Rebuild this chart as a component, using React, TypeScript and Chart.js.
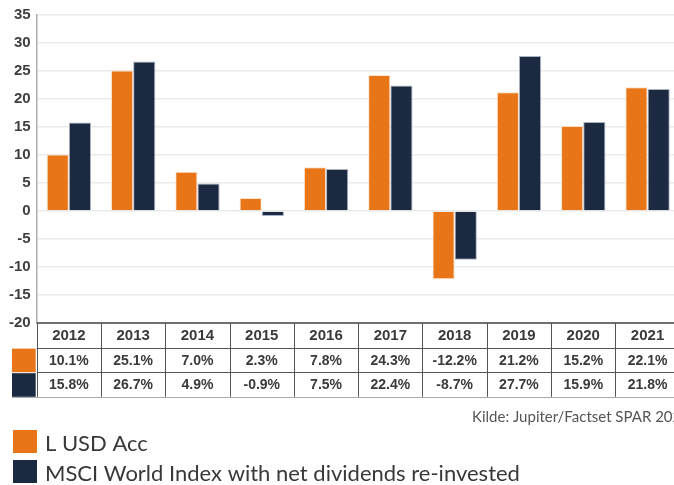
import React, { useEffect, useRef } from "react";
import { Chart, registerables } from "chart.js";

Chart.register(...registerables);

const categories = ["2012", "2013", "2014", "2015", "2016", "2017", "2018", "2019", "2020", "2021"];
const fundReturns = [10.1, 25.1, 7.0, 2.3, 7.8, 24.3, -12.2, 21.2, 15.2, 22.1];
const indexReturns = [15.8, 26.7, 4.9, -0.9, 7.5, 22.4, -8.7, 27.7, 15.9, 21.8];
const seriesNames = ["L USD Acc", "MSCI World Index with net dividends re-invested"];
const yMin = -20;
const yMax = 35;
const yStep = 5;
const sourceText = "Kilde: Jupiter/Factset SPAR 2021";

const ORANGE = "#E87619";
const NAVY = "#1B2A41";

const fmt = (v: number) => v.toFixed(1) + "%";

const tablePlugin = {
  id: "tableAndLegend",
  afterDraw(chart: any) {
    const ctx = chart.ctx;
    const area = chart.chartArea;
    const xs = chart.scales.x;
    const n = categories.length;
    const colW = (area.right - area.left) / n;
    const top = area.bottom;
    const rowH = 24.6;
    const rows = [top, top + rowH, top + 2 * rowH, top + 3 * rowH];
    const sqLeft = 12;
    ctx.save();

    // colour squares
    ctx.fillStyle = ORANGE;
    ctx.fillRect(sqLeft, rows[1] + 1, area.left - sqLeft - 1, rowH - 1);
    ctx.fillStyle = NAVY;
    ctx.fillRect(sqLeft, rows[2] + 1, area.left - sqLeft - 1, rowH - 1);

    // horizontal lines
    ctx.strokeStyle = "#444";
    ctx.lineWidth = 1.5;
    ctx.beginPath();
    ctx.moveTo(area.left, rows[0]);
    ctx.lineTo(area.right, rows[0]);
    ctx.stroke();
    ctx.lineWidth = 1;
    ctx.strokeStyle = "#555";
    ctx.beginPath();
    ctx.moveTo(area.left, Math.round(rows[1]) + 0.5);
    ctx.lineTo(area.right, Math.round(rows[1]) + 0.5);
    ctx.moveTo(area.left, Math.round(rows[2]) + 0.5);
    ctx.lineTo(area.right, Math.round(rows[2]) + 0.5);
    ctx.stroke();
    ctx.strokeStyle = "#aaa";
    ctx.beginPath();
    ctx.moveTo(sqLeft, Math.round(rows[3]) + 0.5);
    ctx.lineTo(area.right, Math.round(rows[3]) + 0.5);
    ctx.stroke();

    // vertical lines
    ctx.strokeStyle = "#555";
    ctx.beginPath();
    for (let i = 0; i <= n; i++) {
      const x = Math.round(area.left + i * colW) + 0.5;
      ctx.moveTo(x, rows[0]);
      ctx.lineTo(x, rows[3]);
    }
    ctx.stroke();

    // texts
    ctx.fillStyle = "#3a3a3a";
    ctx.textAlign = "center";
    ctx.textBaseline = "middle";
    for (let i = 0; i < n; i++) {
      const cx = xs.getPixelForValue(i);
      ctx.font = "bold 15px 'Liberation Sans', Arial, sans-serif";
      ctx.fillText(categories[i], cx, rows[0] + rowH / 2 + 1);
      ctx.font = "bold 14px 'Liberation Sans', Arial, sans-serif";
      ctx.fillText(fmt(fundReturns[i]), cx, rows[1] + rowH / 2 + 1);
      ctx.fillText(fmt(indexReturns[i]), cx, rows[2] + rowH / 2 + 1);
    }

    // source
    ctx.textAlign = "left";
    ctx.fillStyle = "#555";
    ctx.font = "15px Lato, sans-serif";
    ctx.fillText(sourceText, 472, 417);

    // legend
    const leg = [
      { c: ORANGE, t: seriesNames[0], y: 430 },
      { c: NAVY, t: seriesNames[1], y: 460 },
    ];
    ctx.font = "22px Lato, sans-serif";
    for (const l of leg) {
      ctx.fillStyle = l.c;
      ctx.fillRect(13, l.y, 24, 23);
      ctx.fillStyle = "#383838";
      ctx.fillText(l.t, 45, l.y + 14);
    }
    ctx.restore();
  },
};

export default function App() {
  const ref = useRef<HTMLCanvasElement | null>(null);
  useEffect(() => {
    document.body.style.margin = "0";
    const canvas = ref.current!;
    const chart = new Chart(canvas, {
      type: "bar",
      data: {
        labels: categories,
        datasets: [
          {
            label: seriesNames[0],
            data: fundReturns,
            backgroundColor: ORANGE,
            borderColor: "rgba(255,220,190,0.8)",
            borderWidth: 1,
            categoryPercentage: 0.69,
            barPercentage: 1,
          },
          {
            label: seriesNames[1],
            data: indexReturns,
            backgroundColor: NAVY,
            borderColor: "rgba(150,160,180,0.8)",
            borderWidth: 1,
            categoryPercentage: 0.69,
            barPercentage: 1,
          },
        ],
      },
      options: {
        responsive: false,
        animation: false,
        devicePixelRatio: 1,
        layout: { padding: { top: 15, bottom: 162, left: 0, right: 20.3 } },
        plugins: { legend: { display: false }, tooltip: { enabled: false } },
        scales: {
          x: { display: false },
          y: {
            min: yMin,
            max: yMax,
            afterFit(scale: any) {
              scale.width = 36.7;
            },
            ticks: {
              stepSize: yStep,
              color: "#3f3f3f",
              padding: 6,
              font: { family: "'Liberation Sans', Arial, sans-serif", size: 15, weight: "bold" },
            },
            grid: { color: "#ebebeb", lineWidth: 1.5, drawTicks: false },
            border: { color: "#b0b0b0", width: 1.5 },
          },
        },
      },
      plugins: [tablePlugin],
    } as any);
    return () => chart.destroy();
  }, []);
  return (
    <div style={{ position: "fixed", left: 0, top: 0, width: 674, height: 485, overflow: "hidden", background: "#fff" }}>
      <canvas ref={ref} width={700} height={485} style={{ display: "block" }} />
    </div>
  );
}
